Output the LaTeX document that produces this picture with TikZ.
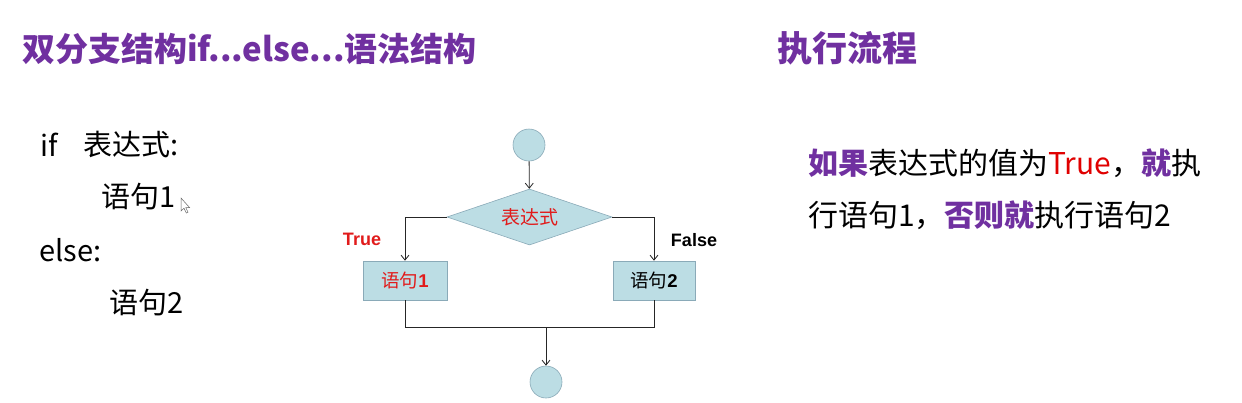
\documentclass[tikz,border=0pt]{standalone}
\usepackage{fontspec}
\setmainfont{Noto Sans CJK SC}
\newfontfamily\lat{Liberation Sans}
\usetikzlibrary{shapes.geometric,arrows.meta}
\definecolor{purp}{HTML}{7030A0}
\definecolor{tred}{HTML}{E00000}
\definecolor{fred}{HTML}{E11B1B}
\definecolor{boxfill}{HTML}{BCDDE4}
\definecolor{boxline}{HTML}{8AAAB8}
\tikzset{
  titletext/.style={anchor=west,inner sep=0pt,text=purp,font=\fontsize{33}{33}\selectfont\bfseries},
  codetext/.style={anchor=west,inner sep=0pt,font=\fontsize{29}{29}\selectfont},
  desctext/.style={anchor=west,inner sep=0pt,font=\fontsize{30}{30}\selectfont},
  term/.style={circle,draw=boxline,fill=boxfill,minimum size=32pt,inner sep=0pt,line width=0.6pt},
  decision/.style={diamond,shape aspect=3,draw=boxline,fill=boxfill,minimum width=165pt,minimum height=56pt,inner sep=0pt,line width=0.6pt,font=\fontsize{19}{19}\selectfont,text=fred},
  stmt/.style={rectangle,draw=boxline,fill=boxfill,minimum height=39pt,inner sep=0pt,line width=0.6pt,font=\fontsize{18.5}{18.5}\selectfont},
  flow/.style={line width=0.8pt,draw=black!85},
  arr/.style={flow,-{Straight Barb[length=5pt,width=8pt]}},
  blabel/.style={inner sep=0pt,font=\lat\bfseries\fontsize{18}{18}\selectfont}
}
\begin{document}
\begin{tikzpicture}[x=1pt,y=-1pt]
\useasboundingbox (0,0) rectangle (1242,402);
\fill[white] (0,0) rectangle (1242,402);

% titles
\node[titletext] (title1) at (22,49) {双分支结构if...else...语法结构};
\node[titletext,font=\fontsize{35}{35}\selectfont\bfseries] (title2) at (777,48) {执行流程};

% code
\node[codetext] (c1a) at (40,145) {if};
\node[codetext] (c1b) at (83,145) {表达式:};
\node[codetext] (c2) at (101,197) {语句1};
\node[codetext] (c3) at (39,250) {else:};
\node[codetext] (c4) at (109,303) {语句2};

% mouse pointer
\draw[black!60,fill=white,line width=0.5pt] (181,198) -- (181,211) -- (184,208.2) -- (186.3,213) -- (188,212.2) -- (185.8,207.6) -- (189.6,207.6) -- cycle;

% description
\node[desctext] (d1) at (808,163) {{\color{purp}\bfseries 如果}表达式的值为{\color{tred}True}，{\color{purp}\bfseries 就}执};
\node[desctext] (d2) at (808,215) {行语句1，{\color{purp}\bfseries 否则就}执行语句2};

% flowchart
\node[term] (start) at (529,145) {};
\node[decision] (cond) at (529.5,217) {表达式};
\node[stmt,minimum width=84pt] (s1) at (405,280.5) {\color{fred}语句{\lat\bfseries 1}};
\node[stmt,minimum width=82pt] (s2) at (654,280.5) {语句{\lat\bfseries 2}};
\node[term] (stop) at (546,382) {};
\coordinate (j) at (546,327);

\draw[arr] (start) -- (cond);
\draw[arr] (cond.west) -| (s1.north);
\draw[arr] (cond.east) -| (s2.north);
\draw[flow] (s1.south) -- (s1.south |- j) -- (s2.south |- j) -- (s2.south);
\draw[arr] (j) -- (stop);

\node[blabel,text=fred] (ltrue) at (362,239) {True};
\node[blabel,text=black] (lfalse) at (694,240) {False};
\end{tikzpicture}
\end{document}
